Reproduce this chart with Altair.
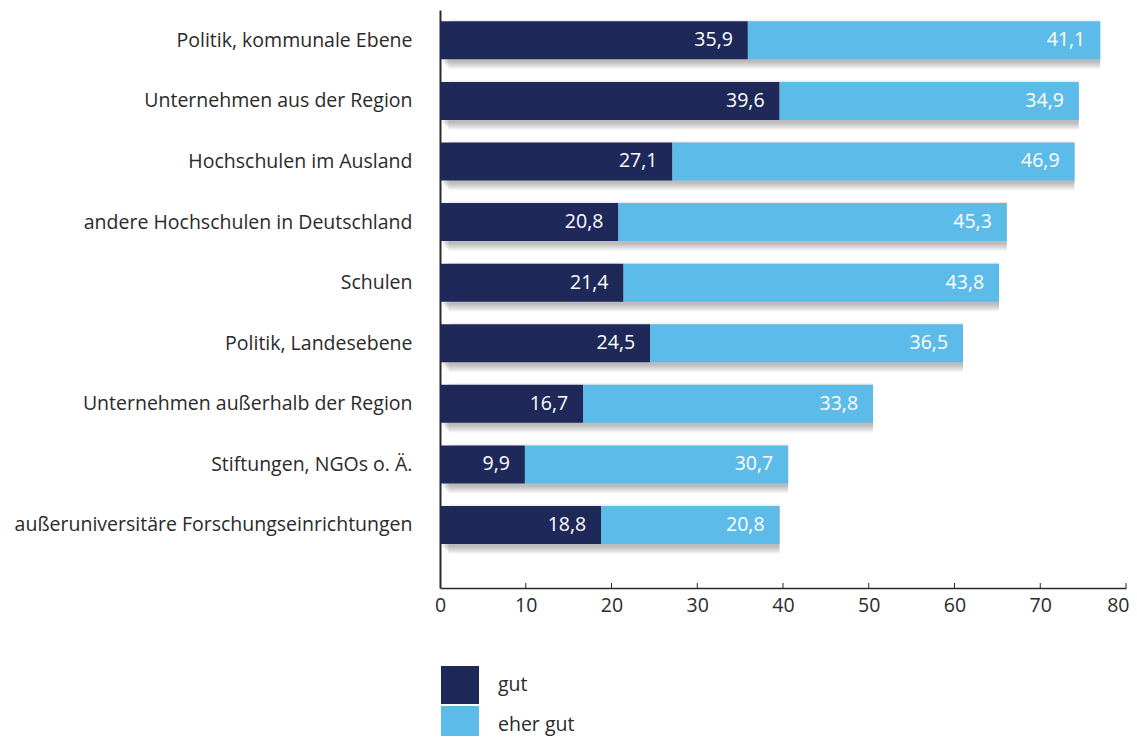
import json
import altair as alt
import pandas as pd

categories = [
    "Politik, kommunale Ebene",
    "Unternehmen aus der Region",
    "Hochschulen im Ausland",
    "andere Hochschulen in Deutschland",
    "Schulen",
    "Politik, Landesebene",
    "Unternehmen außerhalb der Region",
    "Stiftungen, NGOs o. Ä.",
    "außeruniversitäre Forschungseinrichtungen",
]
gut = [35.9, 39.6, 27.1, 20.8, 21.4, 24.5, 16.7, 9.9, 18.8]
eher_gut = [41.1, 34.9, 46.9, 45.3, 43.8, 36.5, 33.8, 30.7, 20.8]
series = ["gut", "eher gut"]
colors = ["#1e2859", "#5dbbe9"]
x_ticks = [0, 10, 20, 30, 40, 50, 60, 70, 80]

FONT = "Open Sans"
FS = 19.5
TXT = "#2a2a2a"

rows = []
tot = []
for i, c in enumerate(categories):
    g, e = gut[i], eher_gut[i]
    rows.append(dict(idx=i, cat=c, serie="gut", start=0, end=g, lab=f"{g:.1f}".replace(".", ",")))
    rows.append(dict(idx=i, cat=c, serie="eher gut", start=g, end=g + e, lab=f"{e:.1f}".replace(".", ",")))
    tot.append(dict(idx=i, start=0, end=g + e))
df = pd.DataFrame(rows)
dtot = pd.DataFrame(tot)
dticks = pd.DataFrame({"t": x_ticks[1:]})

W, H = 686, 578
label_expr = json.dumps(categories) + "[datum.value]"

xs = alt.Scale(domain=[0, 80], nice=False, zero=True, padding=0)
ys = alt.Scale(domain=[-0.5, 9.04], reverse=True, nice=False, zero=False, padding=0)

last_tick = f"datum.value == {x_ticks[-1]}"
xenc = alt.X("start:Q", scale=xs, axis=alt.Axis(values=x_ticks, grid=False, ticks=False,
        domainColor=TXT, domainWidth=1.5, labelFont=FONT, labelFontSize=FS, labelColor=TXT,
        labelPadding=8, title=None, labelFlush=False,
        labelAlign={"condition": {"test": last_tick, "value": "right"}, "value": "center"},
        labelOffset={"condition": {"test": last_tick, "value": 3}, "value": 0}))
yenc = alt.Y("idx:Q", scale=ys, axis=alt.Axis(values=list(range(len(categories))), grid=False,
        ticks=False, domainColor=TXT, domainWidth=2, labelFont=FONT, labelFontSize=FS,
        labelColor=TXT, labelPadding=28, title=None, labelExpr=label_expr,
        labelLimit=600))

base_tot = alt.Chart(dtot)
shadows = []
for s in range(8):
    shadows.append(base_tot.mark_bar(color="#000000", opacity=0.035, xOffset=2 + s, yOffset=4,
                                     size=36 + 2 * s).encode(x=xenc, x2="end:Q", y=yenc))

bars = alt.Chart(df).mark_bar(size=38).encode(
    x=xenc, x2="end:Q", y=yenc,
    color=alt.Color("serie:N", scale=alt.Scale(domain=series, range=colors),
        legend=alt.Legend(title=None, orient="none", legendX=1, legendY=656,
            symbolType="square", symbolSize=38 * 38, symbolStrokeWidth=0, symbolOpacity=1,
            labelFont=FONT, labelFontSize=FS, labelColor=TXT, labelOffset=19, rowPadding=2,
            direction="vertical")),
)
texts = alt.Chart(df).mark_text(align="right", baseline="middle", dx=-15, color="white",
        font=FONT, fontSize=FS).encode(
    x=alt.X("end:Q", scale=xs), y=alt.Y("idx:Q", scale=ys), text="lab:N")

ticks = alt.Chart(dticks).mark_rule(color=TXT, strokeWidth=1).encode(
    x=alt.X("t:Q", scale=xs), y=alt.value(H - 5), y2=alt.value(H))

chart = alt.layer(*shadows, bars, texts, ticks).properties(
    width=W, height=H,
    autosize=alt.AutoSizeParams(type="none"),
    padding={"left": 432, "top": 2, "right": 3, "bottom": 148},
).configure_view(stroke=None)

chart.save("out.html", embed_options={"renderer": "svg", "actions": False})
